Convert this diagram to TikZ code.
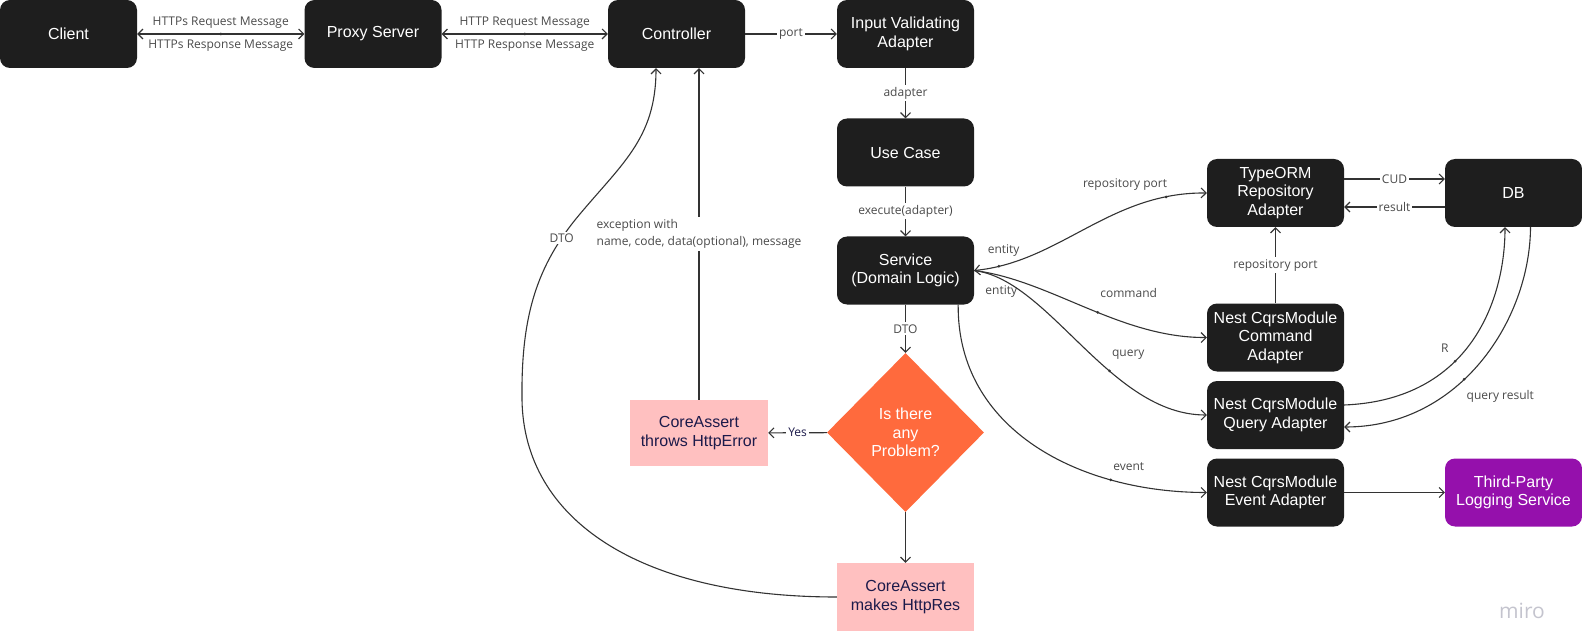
\documentclass[tikz,border=0pt]{standalone}
\usepackage{fontspec}
\setmainfont{Liberation Sans}
\newfontfamily\lblfont{Open Sans}
\usetikzlibrary{arrows.meta,shapes.geometric}

\definecolor{boxdark}{HTML}{1E1E1E}
\definecolor{diaorange}{HTML}{FF6A3D}
\definecolor{pinkfill}{HTML}{FFC0C0}
\definecolor{navytext}{HTML}{1C1A4A}
\definecolor{purplefill}{HTML}{9510AC}
\definecolor{linec}{HTML}{333333}
\definecolor{lblgray}{HTML}{4A4A4A}
\definecolor{mirogray}{HTML}{C4C4CE}

\tikzset{
  darkbox/.style={rectangle, rounded corners=10pt, fill=boxdark, text=white, minimum width=137pt, minimum height=68pt, align=center, inner sep=2pt, font=\fontsize{16}{18.5}\selectfont},
  pinkbox/.style={rectangle, fill=pinkfill, text=navytext, minimum width=137pt, minimum height=67pt, align=center, inner sep=2pt, font=\fontsize{16}{18.5}\selectfont},
  problembox/.style={diamond, fill=diaorange, text=white, minimum width=157pt, minimum height=159pt, align=center, inner sep=0pt, font=\fontsize{16}{18.5}\selectfont},
  lbl/.style={fill=white, text=lblgray, inner sep=2pt, font=\lblfont\fontsize{12}{17}\selectfont},
  sidelbl/.style={text=lblgray, inner sep=2pt, font=\lblfont\fontsize{12}{17}\selectfont},
  lbldot/.style={circle, fill=linec, inner sep=0pt, minimum size=3pt},
  conn/.style={draw=linec, line width=1.1pt}
}

\begin{document}
\begin{tikzpicture}[x=1pt, y=-1pt, >={Straight Barb[length=5pt,width=10pt]}]
\useasboundingbox (0,0) rectangle (1582,631);

\node [darkbox] (client) at (68.5,34) {Client};
\node [darkbox] (proxy) at (373,34) {Proxy Server};
\node [darkbox] (ctrl) at (676.5,34) {Controller};
\node [darkbox] (valid) at (905.5,34) {Input Validating\\Adapter};
\node [darkbox] (usecase) at (905.5,152.5) {Use Case};
\node [darkbox] (service) at (905.5,270.5) {Service\\(Domain Logic)};
\node [problembox] (problem) at (905.5,432.5) {Is there\\any\\Problem?};
\node [pinkbox, minimum width=138pt, minimum height=66pt] (throws) at (699,433) {CoreAssert\\throws HttpError};
\node [pinkbox, minimum height=68pt] (makesres) at (905.5,597) {CoreAssert\\makes HttpRes};
\node [darkbox] (typeorm) at (1275.5,193) {TypeORM\\Repository\\Adapter};
\node [darkbox] (db) at (1513.5,193) {DB};
\node [darkbox] (cmd) at (1275.5,337.5) {Nest CqrsModule\\Command\\Adapter};
\node [darkbox] (query) at (1275.5,415) {Nest CqrsModule\\Query Adapter};
\node [darkbox] (event) at (1275.5,492.5) {Nest CqrsModule\\Event Adapter};
\node [darkbox, fill=purplefill] (logging) at (1513.5,492.5) {Third-Party\\Logging Service};
\node [text=mirogray, font=\lblfont\fontsize{21}{23}\selectfont] (miro) at (1522,611) {miro};

\draw [conn] [<->] (client) -- node [lbldot] {} node [above=3pt, sidelbl] {HTTPs Request Message} node [below=3pt, sidelbl] {HTTPs Response Message} (proxy);
\draw [conn] [<->] (proxy) -- node [lbldot] {} node [above=3pt, sidelbl] {HTTP Request Message} node [below=3pt, sidelbl] {HTTP Response Message} (ctrl);
\draw [conn] [->] (ctrl) -- node [lbl] {port} (valid);
\draw [conn] [->] (valid) -- node [lbl] {adapter} (usecase);
\draw [conn] [->] (usecase) -- node [lbl] {execute(adapter)} (service);
\draw [conn] [->] (service) -- node [lbl] {DTO} (problem);
\draw [conn] [->] (problem) -- node [lbl, text=navytext] {Yes} (throws);
\draw [conn] [->] (problem) -- (makesres);
\draw [conn] [->] (throws.north) -- node [lbl, align=left] {exception with\\name, code, data(optional), message} (throws.north |- ctrl.south);
\draw [conn] [->] (makesres.west) .. controls (640,597) and (524,520) .. (522,400)
  .. controls (521,320) and (535,270) .. (575,220) node [pos=0.88, lbl] {DTO}
  .. controls (620,165) and (656,140) .. ([xshift=-20.5pt]ctrl.south);

\draw [conn] [<->] (service.east) .. controls (1060,262) and (1110,192) .. (typeorm.west)
  node [pos=0.1, lbldot] {} node [pos=0.12, above=6pt, sidelbl] {entity}
  node [pos=0.85, lbldot] {} node [pos=0.7, above=15pt, xshift=-5pt, sidelbl] {repository port};
\draw [conn] [->] (service.east) .. controls (1050,280) and (1120,338) .. (cmd.west)
  node [pos=0.12, below=7pt, sidelbl] {entity}
  node [pos=0.55, lbldot] {} node [pos=0.55, anchor=south west, yshift=12pt, sidelbl] {command};
\draw [conn] [->] (service.east) .. controls (1050,280) and (1110,415) .. (query.west)
  node [pos=0.62, lbldot] {} node [pos=0.62, anchor=south west, yshift=9pt, sidelbl] {query};
\draw [conn] [->] (service.-33) .. controls (957,430) and (1080,492.5) .. (event.west)
  node [pos=0.74, lbldot] {} node [pos=0.74, anchor=south west, yshift=7pt, sidelbl] {event};

\draw [conn] [->] ([yshift=14pt]typeorm.east) -- node [lbl] {CUD} ([yshift=14pt]db.west);
\draw [conn] [->] ([yshift=-14pt]db.west) -- node [lbl] {result} ([yshift=-14pt]typeorm.east);
\draw [conn] [->] (cmd) -- node [lbl] {repository port} (typeorm);
\draw [conn] [->] ([yshift=10pt]query.east) .. controls (1470,400) and (1505,300) .. ([xshift=-8.5pt]db.south)
  node [pos=0.4, lbldot] {} node [pos=0.4, anchor=south east, xshift=-4pt, yshift=6pt, sidelbl] {R};
\draw [conn] [->] ([xshift=17pt]db.south) .. controls (1530,320) and (1460,427) .. ([yshift=-12pt]query.east)
  node [pos=0.58, lbldot] {} node [pos=0.58, anchor=north west, yshift=-8pt, sidelbl] {query result};
\draw [conn] [->] (event) -- (logging);
\end{tikzpicture}
\end{document}
